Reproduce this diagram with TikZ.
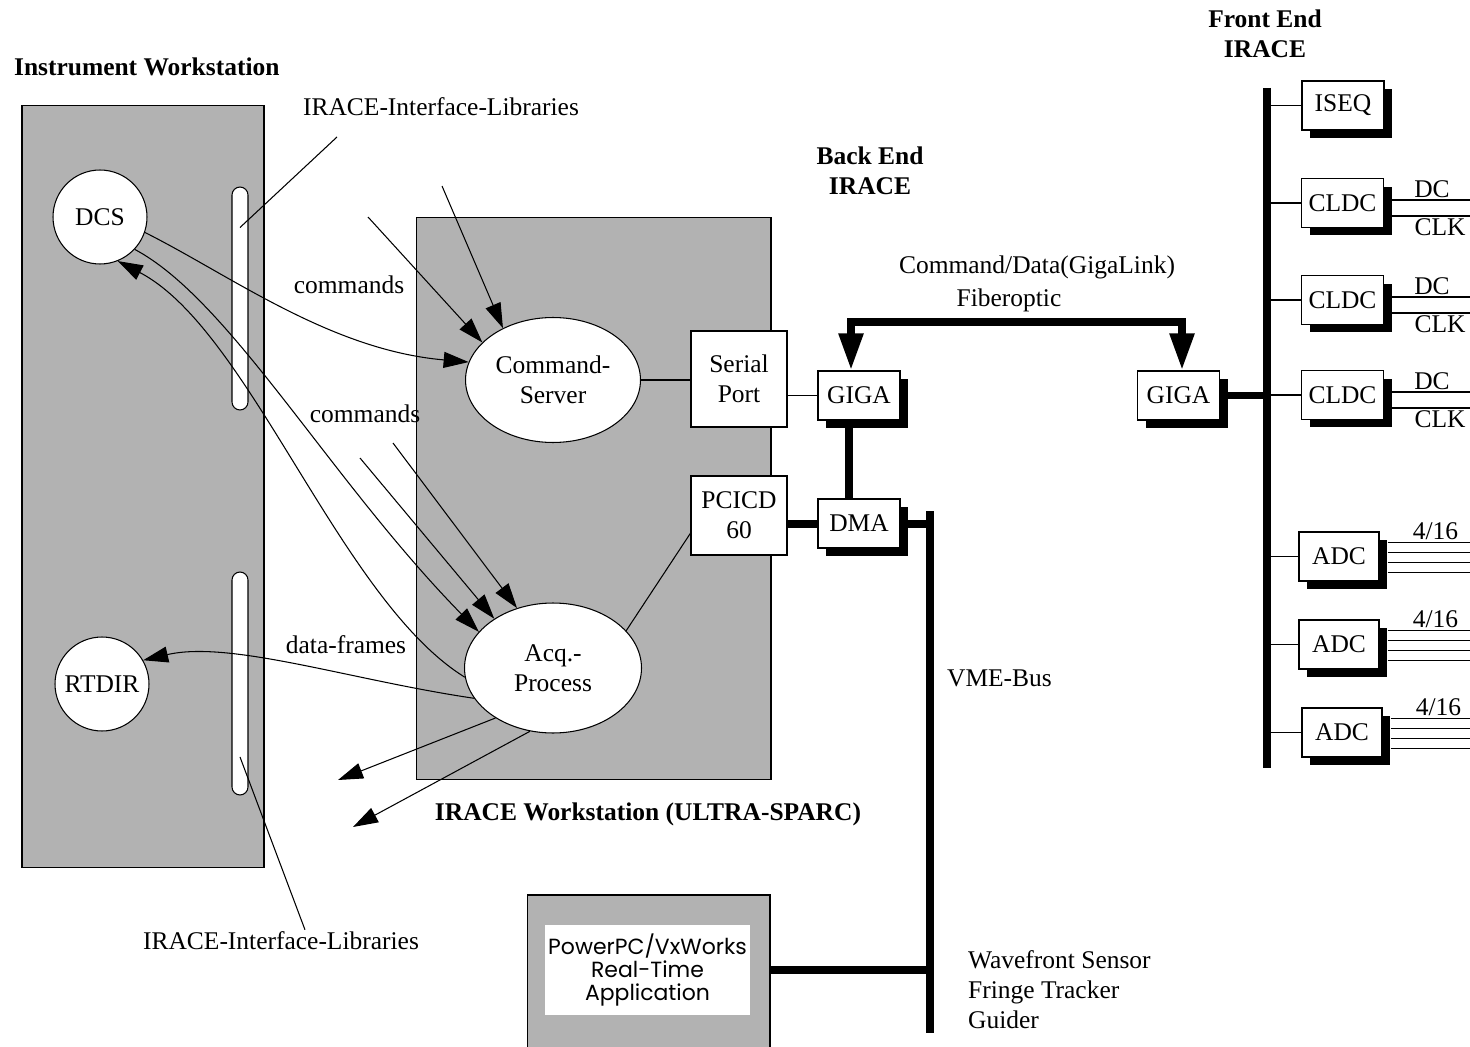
\documentclass[tikz,border=0pt]{standalone}
\usepackage{fontspec}
\setmainfont{Liberation Serif}
\newfontfamily\ppcfont{Poppins}
\usepackage{tikz}
\usetikzlibrary{arrows.meta, shapes.geometric, shadows, calc}
\usepackage{xcolor}
\definecolor{DitherGray}{HTML}{B2B2B2}
\definecolor{LinkBlack}{HTML}{000000}
\definecolor{PaperWhite}{HTML}{FFFFFF}
\tikzset{
    lbl/.style={
        font=\fontsize{14.5}{17}\selectfont,
        align=center,
        inner sep=1pt
    },
    heading/.style={
        lbl,
        font=\fontsize{14.5}{17}\selectfont\bfseries
    },
    station/.style={
        draw=LinkBlack,
        fill=DitherGray,
        line width=0.6pt,
        inner sep=0pt
    },
    slot/.style={
        draw=LinkBlack,
        fill=PaperWhite,
        line width=0.6pt,
        rounded corners=0.16cm,
        minimum width=0.32cm,
        minimum height=4.46cm,
        inner sep=0pt
    },
    client/.style={
        circle,
        draw=LinkBlack,
        fill=PaperWhite,
        line width=0.6pt,
        minimum size=1.88cm,
        inner sep=0pt,
        lbl
    },
    process/.style={
        ellipse,
        draw=LinkBlack,
        fill=PaperWhite,
        line width=0.6pt,
        inner sep=0pt,
        lbl
    },
    port/.style={
        draw=LinkBlack,
        fill=PaperWhite,
        line width=0.6pt,
        minimum width=1.92cm,
        lbl
    },
    card/.style={
        draw=LinkBlack,
        fill=PaperWhite,
        line width=0.6pt,
        minimum width=1.64cm,
        minimum height=0.98cm,
        inner sep=0pt,
        lbl,
        drop shadow={shadow xshift=0.16cm, shadow yshift=-0.16cm, fill=LinkBlack, opacity=1}
    },
    wire/.style={
        line width=0.6pt,
        LinkBlack
    },
    arrow/.style={
        -{Triangle[length=0.5cm, width=0.32cm]},
        line width=0.6pt,
        LinkBlack
    },
    bus/.style={
        line width=0.16cm,
        LinkBlack
    },
    bigarrow/.style={
        {Triangle[length=0.74cm, width=0.46cm]}-{Triangle[length=0.74cm, width=0.46cm]},
        line width=0.16cm,
        LinkBlack
    }
}

\begin{document}
\begin{tikzpicture}[x=0.02cm, y=-0.02cm]
    \path[use as bounding box, fill=PaperWhite] (0,0) rectangle (1470,1047);

    % workstations
    \node[station, minimum width=4.84cm, minimum height=15.26cm] (iws) at (143,486.5) {};
    \node[station, minimum width=7.1cm, minimum height=11.26cm] (irws) at (593.5,498.5) {};
    \node[station, minimum width=4.86cm, minimum height=3.3cm] (ppc) at (648.5,977.5) {};
    \node[fill=PaperWhite, minimum width=4.1cm, minimum height=1.8cm, inner sep=0pt, align=center,
          font=\fontsize{12.5}{13}\selectfont\ppcfont] (ppcin) at (647.5,970) {PowerPC/VxWorks\\Real-Time\\Application};

    \node[heading, anchor=west] (iwsT) at (12,67) {Instrument Workstation};
    \node[heading] (irwsT) at (648,814) {IRACE Workstation (ULTRA-SPARC)};
    \node[heading] (beT) at (870,171) {Back End\\IRACE};
    \node[heading] (feT) at (1265,34) {Front End\\IRACE};

    \node[slot] (libA) at (240,298.5) {};
    \node[slot] (libB) at (240,683.5) {};
    \node[client] (dcs) at (100,217) {DCS};
    \node[client] (rtdir) at (102,684) {RTDIR};

    \node[process, minimum width=3.5cm, minimum height=2.5cm] (cmdsrv) at (553,380) {Command-\\Server};
    \node[process, minimum width=3.54cm, minimum height=2.6cm] (acq) at (553,668) {Acq.-\\Process};
    \node[port, minimum height=1.92cm] (serial) at (739,379) {Serial\\Port};
    \node[port, minimum height=1.58cm] (pcicd) at (739,515.5) {PCICD\\60};

    % back end and front end boards
    \node[card] (gigaB) at (859,395.5) {GIGA};
    \node[card] (dma) at (859,523.5) {DMA};
    \node[card] (gigaF) at (1178.5,395.5) {GIGA};
    \node[card] (iseq) at (1343,105.5) {ISEQ};
    \node[card] (cldc1) at (1342.5,203) {CLDC};
    \node[card] (cldc2) at (1342.5,300) {CLDC};
    \node[card] (cldc3) at (1342.5,395) {CLDC};
    \node[card, minimum width=1.6cm] (adc1) at (1339,556.5) {ADC};
    \node[card, minimum width=1.6cm] (adc2) at (1339,644.5) {ADC};
    \node[card, minimum width=1.6cm] (adc3) at (1342,732.5) {ADC};

    \node[lbl] (libtxtA) at (441,107) {IRACE-Interface-Libraries};
    \node[lbl] (libtxtB) at (281,941) {IRACE-Interface-Libraries};
    \node[lbl] (cmdtxtA) at (349,285) {commands};
    \node[lbl] (cmdtxtB) at (365,414) {commands};
    \node[lbl] (dftxt) at (346,645) {data-frames};
    \node[lbl] (fibtxtA) at (1037,267) {Command/Data(GigaLink)};
    \node[lbl] (fibtxtB) at (1009,300) {Fiberoptic};
    \node[lbl, anchor=west] (vmetxt) at (945,678) {VME-Bus};
    \node[lbl, anchor=west, align=left] (wfstxt) at (966,990) {Wavefront Sensor\\Fringe Tracker\\Guider};

    % buses
    \coordinate (fbusT) at (1267,88);
    \coordinate (fbusB) at (1267,768);
    \coordinate (vmeT) at (930,511);
    \coordinate (vmeB) at (930,1033);
    \coordinate (fib) at (1000,322);
    \draw[bus] (fbusT) -- (fbusB);
    \draw[bus] (vmeT) -- (vmeB);
    \draw[bigarrow] ([xshift=-0.16cm]gigaB.north) |- (fib) -| ([xshift=0.07cm]gigaF.north);
    \draw[bus] ([xshift=-0.2cm]gigaB.south) -- ([xshift=-0.2cm]dma.north);
    \draw[bus] (pcicd.east |- dma.west) -- (dma.west);
    \draw[bus] (dma.east) -- (dma.east -| vmeT);
    \draw[bus] (gigaF.east) -- (gigaF.east -| fbusT);
    \draw[bus] (ppcin.east -| ppc.east) -- (ppcin.east -| vmeT);

    \draw[wire] (cmdsrv.east) -- (serial.west |- cmdsrv.east);
    \draw[wire] (serial.east |- gigaB.west) -- (gigaB.west);
    \draw[wire] (acq.27) -- (pcicd.-160);

    \foreach \n in {iseq, cldc1, cldc2, cldc3, adc1, adc2, adc3}
        \draw[wire] (\n.west) -- (\n.west -| fbusT);
    \foreach \n in {cldc1, cldc2, cldc3} {
        \draw[wire] ([xshift=0.16cm, yshift=0.06cm]\n.east) -- ++(80,0) node[lbl, midway, above] {DC};
        \draw[wire] ([xshift=0.16cm, yshift=-0.26cm]\n.east) -- ++(80,0) node[lbl, pos=0.6, below] {CLK};
    }
    \foreach \n in {adc1, adc2, adc3} {
        \foreach \d in {-14, -4, 6, 16}
            \draw[wire] ([xshift=0.16cm]\n.east) ++(0,\d) -- ++(83,0);
        \node[lbl, above] at ($(\n.east)+(56,-15)$) {4/16};
    }

    % interface libraries
    \coordinate (libptA) at (337,137);
    \draw[wire] (libptA) -- ([yshift=1.42cm]libA.center);
    \draw[wire] ([yshift=-1.47cm]libB.center) -- ([xshift=0.48cm]libtxtB.north);

    % commands and data flow
    \coordinate (cmdA) at (368,217);
    \coordinate (cmdB) at (442,186);
    \coordinate (cmdC) at (360,458);
    \coordinate (cmdD) at (393,443);
    \coordinate (outA) at (338,780);
    \coordinate (outB) at (353,827);
    \draw[arrow] (dcs.-19) .. controls (230,275) and (330,350) .. (cmdsrv.168);
    \draw[arrow] (cmdA) -- (cmdsrv.152);
    \draw[arrow] (cmdB) -- (cmdsrv.134);
    \draw[arrow] (dcs.-43) .. controls (230,300) and (330,480) .. (acq.154);
    \draw[arrow] (cmdC) -- (acq.140);
    \draw[arrow] (cmdD) -- (acq.121);
    \draw[arrow] (acq.186) .. controls (340,600) and (250,330) .. (dcs.-68);
    \draw[arrow] (acq.201) .. controls (350,680) and (230,640) .. (rtdir.30);
    \draw[arrow] (acq.221) -- (outA);
    \draw[arrow] (acq.250) -- (outB);
\end{tikzpicture}
\end{document}
